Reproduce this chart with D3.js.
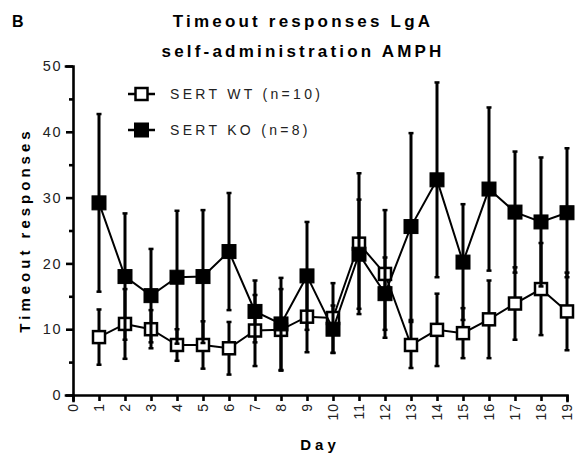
<!DOCTYPE html>
<html>
<head>
<meta charset="utf-8">
<script src="https://cdn.jsdelivr.net/npm/d3@7"></script>
<style>
  body { margin: 0; background: #fff; }
  svg { font-family: "Liberation Sans", Arial, sans-serif; }
</style>
</head>
<body>
<div id="chart-area"></div>
<script>
const days = d3.range(0, 20);
const sessionDays = [1, 2, 3, 4, 5, 6, 7, 8, 9, 10, 11, 12, 13, 14, 15, 16, 17, 18, 19];

// mean +/- SEM
const wtMean = [8.8, 10.8, 10.0, 7.6, 7.6, 7.1, 9.8, 9.9, 11.9, 11.7, 23.0, 18.4, 7.6, 9.9, 9.4, 11.5, 13.9, 16.1, 12.7];
const wtSem  = [4.2, 5.3, 2.9, 2.4, 3.6, 4.0, 5.4, 6.2, 5.4, 5.3, 10.7, 9.7, 3.5, 5.5, 3.8, 5.9, 5.5, 7.0, 5.9];
const koMean = [29.2, 18.0, 15.1, 17.9, 18.0, 21.8, 12.7, 10.8, 18.1, 10.0, 21.4, 15.4, 25.6, 32.7, 20.2, 31.3, 27.8, 26.3, 27.7];
const koSem  = [13.5, 9.6, 7.1, 10.1, 10.1, 8.9, 4.7, 7.0, 8.2, 3.6, 8.3, 5.5, 14.2, 14.8, 8.8, 12.4, 9.2, 9.8, 9.8];

const yTicks = [0, 10, 20, 30, 40, 50];
const yMinorTicks = [5, 15, 25, 35, 45];

const margin = { top: 66, right: 13, bottom: 64, left: 73 };
const width = 580 - margin.left - margin.right;
const height = 459 - margin.top - margin.bottom;

const svg = d3.select('#chart-area')
    .append('svg')
    .attr("width", 580)
    .attr("height", 459);

const g = svg.append("g")
    .attr("transform", `translate(${margin.left}, ${margin.top})`);

const x = d3.scaleLinear()
    .domain([0, 19])
    .range([0, 494]);

const y = d3.scaleLinear()
    .domain([0, 50])
    .range([height, 0]);

// axes
const yAxis = g.append("g")
    .attr("class", "y-axis")
    .call(d3.axisLeft(y).tickValues(yTicks).tickSize(7).tickPadding(4).tickFormat(d3.format("d")));
yAxis.append("g")
    .call(d3.axisLeft(y).tickValues(yMinorTicks).tickSize(4).tickFormat(""))
    .select(".domain").remove();

const xAxis = g.append("g")
    .attr("class", "x-axis")
    .attr("transform", `translate(0, ${height})`)
    .call(d3.axisBottom(x).tickValues(days).tickSize(6).tickFormat(d3.format("d")));

svg.selectAll(".y-axis path, .y-axis line, .x-axis path, .x-axis line")
    .attr("stroke", "#000")
    .attr("stroke-width", 2.6);
svg.selectAll(".y-axis .domain, .x-axis .domain")
    .attr("stroke-linecap", "square");

yAxis.selectAll("text")
    .attr("font-size", "14.5px")
    .attr("letter-spacing", "1.5px")
    .attr("fill", "#222");

xAxis.selectAll("text")
    .attr("font-size", "14px")
    .attr("letter-spacing", "1px")
    .attr("fill", "#222")
    .attr("transform", "rotate(-90)")
    .attr("text-anchor", "end")
    .attr("dy", "0.35em")
    .attr("y", 0)
    .attr("x", -8);

// series
const series = [
    { name: "SERT WT (n=10)", mean: wtMean, sem: wtSem, fill: "#fff", size: 12 },
    { name: "SERT KO (n=8)", mean: koMean, sem: koSem, fill: "#000", size: 14 }
];

const line = d3.line()
    .x(d => x(d.day))
    .y(d => y(d.mean));

series.forEach(s => {
    const pts = sessionDays.map((day, i) => ({ day: day, mean: s.mean[i], sem: s.sem[i] }));
    const sg = g.append("g").attr("class", "series");

    sg.selectAll(".err")
        .data(pts)
        .enter()
        .append("line")
        .attr("class", "err")
        .attr("x1", d => x(d.day))
        .attr("x2", d => x(d.day))
        .attr("y1", d => y(d.mean - d.sem))
        .attr("y2", d => y(d.mean + d.sem))
        .attr("stroke", "#000")
        .attr("stroke-width", 3);

    sg.selectAll(".cap")
        .data(pts.flatMap(d => [{ day: d.day, v: d.mean - d.sem }, { day: d.day, v: d.mean + d.sem }]))
        .enter()
        .append("line")
        .attr("class", "cap")
        .attr("x1", d => x(d.day) - 2.5)
        .attr("x2", d => x(d.day) + 2.5)
        .attr("y1", d => y(d.v))
        .attr("y2", d => y(d.v))
        .attr("stroke", "#000")
        .attr("stroke-width", 2.5);

    s.pts = pts;
    s.g = sg;
});

series.forEach(s => {
    s.g.append("path")
        .datum(s.pts)
        .attr("d", line)
        .attr("fill", "none")
        .attr("stroke", "#000")
        .attr("stroke-width", 2);
});

series.forEach(s => {
    s.g.selectAll(".marker")
        .data(s.pts)
        .enter()
        .append("rect")
        .attr("class", "marker")
        .attr("x", d => x(d.day) - s.size / 2)
        .attr("y", d => y(d.mean) - s.size / 2)
        .attr("width", s.size)
        .attr("height", s.size)
        .attr("fill", s.fill)
        .attr("stroke", "#000")
        .attr("stroke-width", s.fill === "#fff" ? 2.5 : 1);
});

// legend
const legend = svg.append("g")
    .attr("transform", "translate(128, 94)");

series.forEach((s, i) => {
    const lg = legend.append("g").attr("transform", `translate(0, ${i * 36})`);
    lg.append("line")
        .attr("x1", 0).attr("x2", 27)
        .attr("stroke", "#000").attr("stroke-width", 2.5);
    lg.append("rect")
        .attr("x", 13.5 - s.size / 2).attr("y", -s.size / 2)
        .attr("width", s.size).attr("height", s.size)
        .attr("fill", s.fill).attr("stroke", "#000")
        .attr("stroke-width", s.fill === "#fff" ? 2.5 : 1);
    lg.append("text")
        .attr("x", 42)
        .attr("dy", "0.36em")
        .attr("font-size", "14px")
        .attr("letter-spacing", "3.3px")
        .attr("fill", "#222")
        .text(s.name);
});

// titles
svg.append("text")
    .attr("x", 12).attr("y", 27)
    .attr("font-size", "16px").attr("font-weight", "bold")
    .text("B");

svg.append("text")
    .attr("x", 303).attr("y", 27)
    .attr("text-anchor", "middle")
    .attr("font-size", "17px").attr("font-weight", "bold")
    .attr("letter-spacing", "3.2px")
    .text("Timeout responses LgA");

svg.append("text")
    .attr("x", 303).attr("y", 57)
    .attr("text-anchor", "middle")
    .attr("font-size", "17px").attr("font-weight", "bold")
    .attr("letter-spacing", "3.2px")
    .text("self-administration AMPH");

svg.append("text")
    .attr("transform", "translate(30, 230) rotate(-90)")
    .attr("text-anchor", "middle")
    .attr("font-size", "15px").attr("font-weight", "bold")
    .attr("letter-spacing", "4px")
    .text("Timeout responses");

svg.append("text")
    .attr("x", 320).attr("y", 450)
    .attr("text-anchor", "middle")
    .attr("font-size", "15px").attr("font-weight", "bold")
    .attr("letter-spacing", "4px")
    .text("Day");
</script>
</body>
</html>
